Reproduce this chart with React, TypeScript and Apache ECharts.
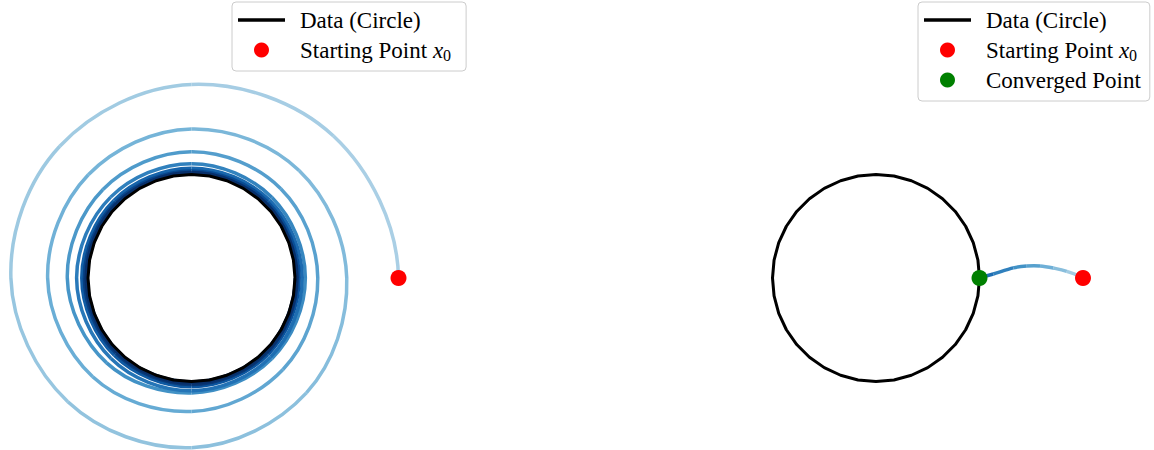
import React, { useEffect, useRef } from "react";
import * as echarts from "echarts";

// ---- data ----
// Left panel: iterate trail, polar readings (cumulative angle in degrees, radius)
const spiralTheta = [
  0, 45, 90, 135, 180, 225, 270, 315,
  360, 405, 450, 495, 540, 585, 630, 675,
  720, 765, 810, 855, 900, 945, 990, 1035,
  1080, 1125, 1170, 1215, 1260, 1305, 1350, 1395,
  1440, 1485, 1530, 1575, 1620, 1665, 1710, 1755,
  1800, 1845, 1890, 1935, 1980, 2025, 2070, 2115,
  2160, 2205, 2250, 2295, 2340, 2385, 2430, 2475,
  2520, 2565, 2610, 2655, 2700, 2745, 2790, 2835, 2880,
];
const spiralRadius = [
  2.0, 1.94, 1.87, 1.8, 1.745, 1.69, 1.64, 1.57,
  1.5, 1.47, 1.44, 1.41, 1.39, 1.35, 1.29, 1.25,
  1.22, 1.22, 1.22, 1.21, 1.2, 1.16, 1.11, 1.1,
  1.1, 1.1, 1.105, 1.105, 1.11, 1.1, 1.09, 1.08,
  1.07, 1.065, 1.06, 1.06, 1.06, 1.055, 1.05, 1.045,
  1.04, 1.04, 1.035, 1.035, 1.035, 1.03, 1.03, 1.025,
  1.02, 1.02, 1.02, 1.02, 1.018, 1.015, 1.015, 1.012,
  1.01, 1.01, 1.01, 1.01, 1.008, 1.006, 1.005, 1.004, 1.003,
];
// Right panel: iterate path (angle in degrees, radius), from x0 to the converged point
const pathTheta = [0, 2.0, 3.2, 4.2, 4.55, 4.2, 1.95, 0];
const pathRadius = [2.0, 1.844, 1.716, 1.589, 1.461, 1.33, 1.134, 1.0];
// Data circle (unit circle)
const circleTheta = [
  0, 10, 20, 30, 40, 50, 60, 70, 80, 90, 100, 110, 120, 130, 140, 150, 160, 170, 180,
  190, 200, 210, 220, 230, 240, 250, 260, 270, 280, 290, 300, 310, 320, 330, 340, 350, 360,
];
const circleRadius = 1;
const startPoint = [2, 0]; // [radius, angle]
const convergedPoint = [1, 0];

const NAME_CIRCLE = "Data (Circle)";
const NAME_START = "Starting Point x_0";
const NAME_CONV = "Converged Point";

// ---- styling helpers ----
const BLUES = [
  [247, 251, 255], [222, 235, 247], [198, 219, 239], [158, 202, 225], [107, 174, 214],
  [66, 146, 198], [33, 113, 181], [8, 81, 156], [8, 48, 107],
];
function blues(t: number): string {
  const x = Math.max(0, Math.min(1, t)) * (BLUES.length - 1);
  const i = Math.min(BLUES.length - 2, Math.floor(x));
  const f = x - i;
  const c = BLUES[i].map((v, k) => Math.round(v + (BLUES[i + 1][k] - v) * f));
  return `rgb(${c[0]},${c[1]},${c[2]})`;
}

const SCALE = 103.5; // px per data unit
const RMAX = 2.3;

function trailSeries(
  theta: number[],
  radius: number[],
  polarIndex: number,
  colorAt: (i: number, n: number) => string,
  tension: number
) {
  const n = theta.length;
  const data = theta.slice(0, n - 1).map((th, i) => [radius[i], th % 360, i]);
  return {
    type: "custom",
    coordinateSystem: "polar",
    polarIndex,
    silent: true,
    z: 2,
    data,
    renderItem: (params: any, api: any) => {
      const i = params.dataIndex;
      const pt = (k: number) => {
        if (k < 0) {
          return api.coord([radius[0], (theta[0] - (theta[1] - theta[0]) + 360) % 360]);
        }
        if (k > n - 1) {
          return api.coord([radius[n - 1], (2 * theta[n - 1] - theta[n - 2] + 3600) % 360]);
        }
        return api.coord([radius[k], theta[k] % 360]);
      };
      const p0 = pt(i - 1);
      const p1 = pt(i);
      const p2 = pt(i + 1);
      const p3 = pt(i + 2);
      return {
        type: "bezierCurve",
        shape: {
          x1: p1[0],
          y1: p1[1],
          x2: p2[0],
          y2: p2[1],
          cpx1: p1[0] + (p2[0] - p0[0]) * tension,
          cpy1: p1[1] + (p2[1] - p0[1]) * tension,
          cpx2: p2[0] - (p3[0] - p1[0]) * tension,
          cpy2: p2[1] - (p3[1] - p1[1]) * tension,
        },
        style: { stroke: colorAt(i, n), lineWidth: 3.5, fill: null, lineCap: "butt" },
      };
    },
  };
}

const FONT = "'Liberation Serif', 'DejaVu Serif', serif";
const legendText = {
  fontFamily: FONT,
  fontSize: 23,
  color: "#000",
  lineHeight: 30,
  padding: [0, 0, 0, 10],
  rich: {
    n: { fontFamily: FONT, fontSize: 23, color: "#000", lineHeight: 30 },
    i: { fontFamily: FONT, fontSize: 23, fontStyle: "italic", color: "#000", lineHeight: 30 },
    s: { fontFamily: FONT, fontSize: 16, color: "#000", lineHeight: 16, padding: [11, 0, 0, 0] },
  },
};
const legendFormatter = (name: string) =>
  name === NAME_START ? "{n|Starting Point }{i|x}{s|0}" : "{n|" + name + "}";

const LINE_ICON = "path://M0,0H47V3.3H0Z";

function legend(left: number, names: string[], padRight: number) {
  return {
    orient: "vertical",
    left,
    top: 2,
    data: names.map((nm) => (nm === NAME_CIRCLE ? { name: nm, icon: LINE_ICON } : { name: nm, icon: "circle" })),
    padding: [3, padRight, 6, 6],
    itemGap: 0,
    itemWidth: 47,
    itemHeight: 15,
    borderColor: "#cccccc",
    borderWidth: 1,
    borderRadius: 4,
    backgroundColor: "rgba(255,255,255,0.8)",
    selectedMode: false,
    formatter: legendFormatter,
    textStyle: legendText,
  };
}

export default function App() {
  const ref = useRef<HTMLDivElement>(null);
  useEffect(() => {
    if (!ref.current) return;
    const chart = echarts.init(ref.current, undefined, { renderer: "svg" });
    const circleData = circleTheta.map((a) => [circleRadius, a]);
    const polarAxes = (idx: number) => ({
      angle: {
        polarIndex: idx,
        type: "value",
        min: 0,
        max: 360,
        startAngle: 0,
        clockwise: false,
        show: false,
      },
      radius: { polarIndex: idx, type: "value", min: 0, max: RMAX, show: false },
    });
    const a0 = polarAxes(0);
    const a1 = polarAxes(1);
    const circleSeries = (polarIndex: number) => ({
      name: NAME_CIRCLE,
      type: "line",
      coordinateSystem: "polar",
      polarIndex,
      data: circleData,
      symbol: "none",
      itemStyle: { color: "#000" },
      lineStyle: { color: "#000", width: 3 },
      z: 3,
      clip: false,
    });
    const dotSeries = (name: string, polarIndex: number, pt: number[], color: string, z: number) => ({
      name,
      type: "scatter",
      coordinateSystem: "polar",
      polarIndex,
      data: [pt],
      symbol: "circle",
      symbolSize: 16,
      itemStyle: { color, opacity: 1 },
      z,
    });
    chart.setOption({
      animation: false,
      polar: [
        { center: [191.5, 278], radius: RMAX * SCALE },
        { center: [876, 278], radius: RMAX * SCALE },
      ],
      angleAxis: [a0.angle, a1.angle],
      radiusAxis: [a0.radius, a1.radius],
      legend: [
        legend(232, [NAME_CIRCLE, NAME_START], 15),
        legend(918, [NAME_CIRCLE, NAME_START, NAME_CONV], 9),
      ],
      series: [
        trailSeries(spiralTheta, spiralRadius, 0, (i) => {
          const th = (spiralTheta[i] + spiralTheta[i + 1]) / 2;
          return blues(0.33 + 0.11 * (th / 360));
        }, 0.18),
        trailSeries(pathTheta, pathRadius, 1, (i, n) => blues(0.36 + 0.4 * (i / (n - 2))), 1 / 6),
        circleSeries(0),
        circleSeries(1),
        dotSeries(NAME_START, 0, startPoint, "#ff0000", 5),
        dotSeries(NAME_START, 1, startPoint, "#ff0000", 5),
        dotSeries(NAME_CONV, 1, convergedPoint, "#008000", 6),
      ],
    });
    return () => chart.dispose();
  }, []);
  return (
    <div
      ref={ref}
      style={{ position: "absolute", left: 0, top: 0, width: 1154, height: 450, background: "#fff" }}
    />
  );
}
